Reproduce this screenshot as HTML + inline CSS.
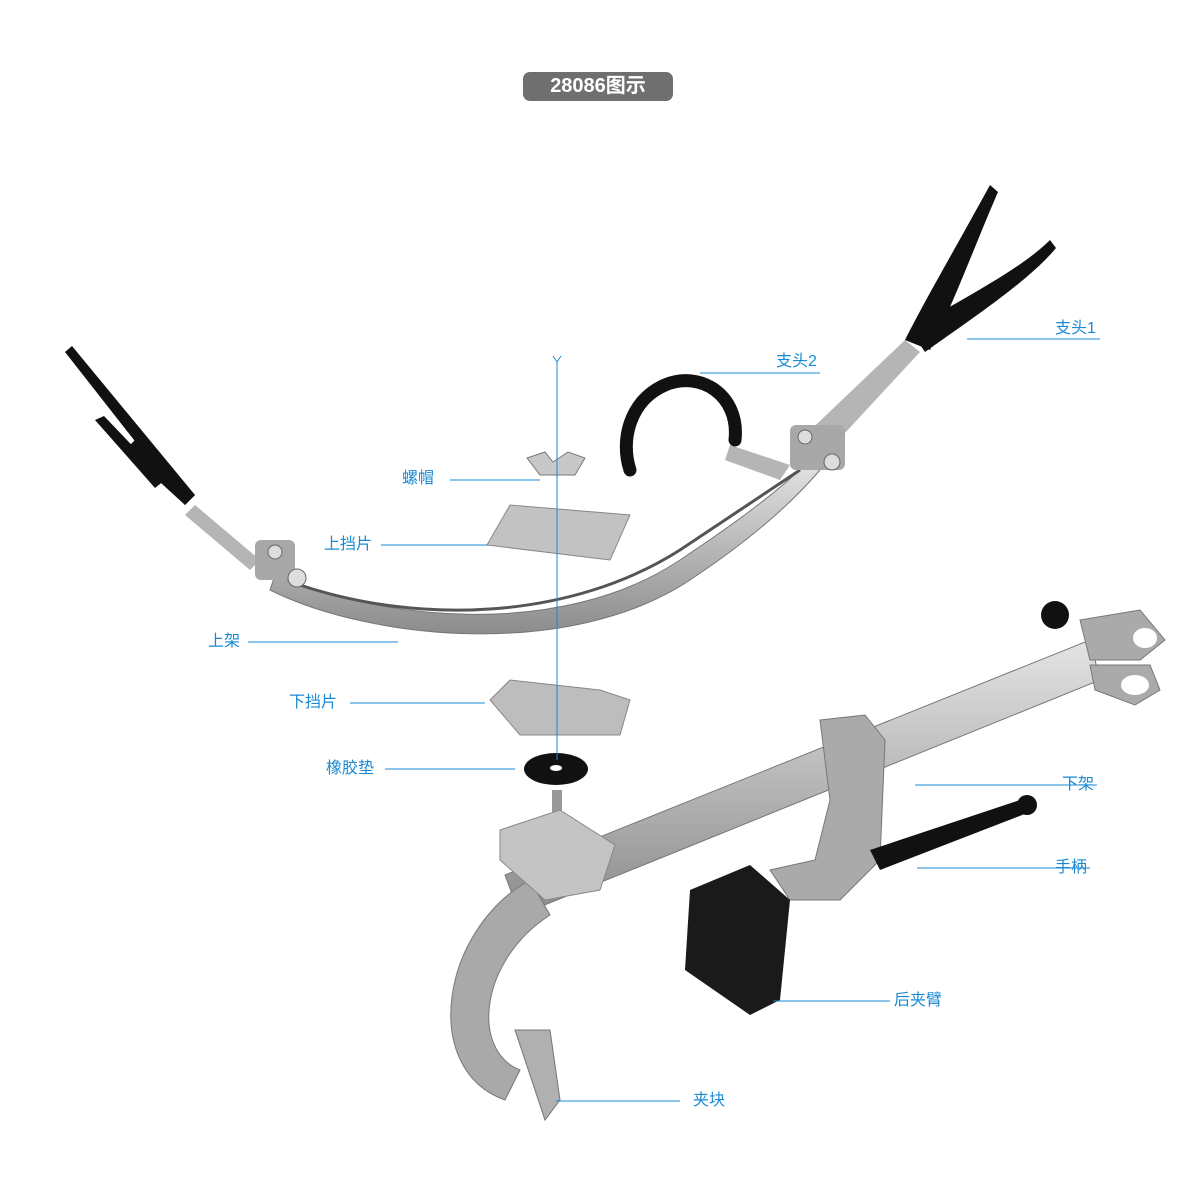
<!DOCTYPE html>
<html><head><meta charset="utf-8"><style>
html,body{margin:0;padding:0;background:#fff;}
#w{position:relative;width:1200px;height:1200px;overflow:hidden;font-family:"Liberation Sans","Noto Sans CJK SC",sans-serif;}
.t{position:absolute;left:523px;top:72px;width:150px;height:29px;background:#6f6f6f;border-radius:7px;color:#fff;font-weight:bold;font-size:20px;line-height:29px;text-align:center;}
.l{position:absolute;color:#1a8ad4;font-size:16px;line-height:18px;}
</style></head><body><div id="w">
<svg width="1200" height="1200" style="position:absolute;left:0;top:0">
<defs>
<linearGradient id="m" x1="0" y1="0" x2="0" y2="1"><stop offset="0" stop-color="#e4e4e4"/><stop offset=".5" stop-color="#b8b8b8"/><stop offset="1" stop-color="#8c8c8c"/></linearGradient>
</defs>
<!-- upper frame -->
<path d="M275,575 C380,620 560,640 680,560 C740,520 780,490 810,460 L820,470 C790,505 750,540 690,580 C570,660 370,640 270,590 Z" fill="url(#m)" stroke="#777" stroke-width="1"/>
<path d="M300,585 C420,625 570,620 680,550 L800,470" fill="none" stroke="#555" stroke-width="3"/>
<!-- left arms -->
<path d="M195,505 L260,560 L250,570 L185,515 Z" fill="#b5b5b5"/>
<path d="M65,352 L72,346 L195,495 L185,505 Z" fill="#111"/>
<path d="M95,420 L104,416 L165,480 L155,488 Z" fill="#111"/>
<path d="M135,440 L195,495 L185,505 L125,450 Z" fill="#111"/>
<rect x="255" y="540" width="40" height="40" rx="6" fill="#a8a8a8"/>
<circle cx="297" cy="578" r="9" fill="#ddd" stroke="#666"/>
<circle cx="275" cy="552" r="7" fill="#ddd" stroke="#666"/>
<!-- right arm -->
<path d="M800,440 L905,340 L920,352 L820,460 Z" fill="#b5b5b5"/>
<path d="M905,340 C925,300 960,240 990,185 L998,192 C975,245 955,300 930,350 Z" fill="#111"/>
<path d="M910,330 C960,300 1020,270 1050,240 L1056,248 C1030,280 970,320 925,352 Z" fill="#111"/>
<rect x="790" y="425" width="55" height="45" rx="6" fill="#a8a8a8"/>
<circle cx="832" cy="462" r="8" fill="#ddd" stroke="#666"/>
<circle cx="805" cy="437" r="7" fill="#ddd" stroke="#666"/>
<!-- hook support 2 -->
<path d="M730,445 L790,465 L780,480 L725,460 Z" fill="#b5b5b5"/>
<path d="M735,440 C740,395 700,370 665,385 C630,400 620,440 630,470" fill="none" stroke="#111" stroke-width="13" stroke-linecap="round"/>
<!-- wing nut, plates -->
<path d="M527,458 L545,452 L553,462 L568,452 L585,458 L575,475 L540,475 Z" fill="#c8c8c8" stroke="#777"/>
<path d="M487,545 L510,505 L630,515 L610,560 Z" fill="#c2c2c2" stroke="#888"/>
<path d="M490,700 L510,680 L600,690 L630,700 L620,735 L520,735 Z" fill="#bdbdbd" stroke="#888"/>
<ellipse cx="556" cy="769" rx="32" ry="16" fill="#111"/>
<ellipse cx="556" cy="768" rx="6" ry="3" fill="#fff"/>
<rect x="552" y="790" width="10" height="40" fill="#999"/>
<!-- lower frame bar -->
<path d="M505,875 L1090,640 L1100,680 L520,915 Z" fill="url(#m)" stroke="#777"/>
<!-- hook -->
<path d="M530,880 C440,930 420,1070 505,1100 L520,1070 C470,1050 480,960 550,915 Z" fill="#a9a9a9" stroke="#777"/>
<path d="M515,1030 L550,1030 L560,1100 L545,1120 Z" fill="#b0b0b0" stroke="#777"/>
<path d="M500,830 L560,810 L615,845 L600,890 L545,900 L500,860 Z" fill="#c4c4c4" stroke="#888"/>
<!-- right end brackets -->
<path d="M1080,620 L1140,610 L1165,640 L1140,660 L1090,660 Z" fill="#aaa" stroke="#777"/>
<ellipse cx="1145" cy="638" rx="12" ry="10" fill="#fff"/>
<path d="M1090,665 L1150,665 L1160,690 L1135,705 L1095,690 Z" fill="#aaa" stroke="#777"/>
<ellipse cx="1135" cy="685" rx="14" ry="10" fill="#fff"/>
<circle cx="1055" cy="615" r="14" fill="#111"/>
<!-- handle plate -->
<path d="M820,720 L865,715 L885,740 L880,860 L840,900 L790,900 L770,870 L815,860 L830,800 Z" fill="#aaa" stroke="#777"/>
<path d="M870,850 L1020,800 L1030,812 L880,870 Z" fill="#111"/>
<circle cx="1027" cy="805" r="10" fill="#111"/>
<!-- black pad -->
<path d="M690,890 L750,865 L790,900 L780,1000 L750,1015 L685,970 Z" fill="#1a1a1a"/>
<!-- axis line -->
<line x1="557" y1="362" x2="557" y2="760" stroke="#1a8ad4" stroke-width="1"/>
<path d="M553,356 L557,362 L561,356" fill="none" stroke="#1a8ad4" stroke-width="1"/>
<!-- leader lines -->
<g stroke="#1a8ad4" stroke-width="1">
<line x1="967" y1="339" x2="1100" y2="339"/>
<line x1="700" y1="373" x2="820" y2="373"/>
<line x1="450" y1="480" x2="540" y2="480"/>
<line x1="381" y1="545" x2="488" y2="545"/>
<line x1="248" y1="642" x2="398" y2="642"/>
<line x1="350" y1="703" x2="485" y2="703"/>
<line x1="385" y1="769" x2="515" y2="769"/>
<line x1="915" y1="785" x2="1097" y2="785"/>
<line x1="917" y1="868" x2="1090" y2="868"/>
<line x1="773" y1="1001" x2="890" y2="1001"/>
<line x1="556" y1="1101" x2="680" y2="1101"/>
</g>
</svg>
<div class="t">28086图示</div>
<div class="l" style="left:1055px;top:320px">支头1</div>
<div class="l" style="left:776px;top:353px">支头2</div>
<div class="l" style="left:402px;top:470px">螺帽</div>
<div class="l" style="left:324px;top:536px">上挡片</div>
<div class="l" style="left:208px;top:633px">上架</div>
<div class="l" style="left:289px;top:694px">下挡片</div>
<div class="l" style="left:326px;top:760px">橡胶垫</div>
<div class="l" style="left:1062px;top:776px">下架</div>
<div class="l" style="left:1055px;top:859px">手柄</div>
<div class="l" style="left:894px;top:992px">后夹臂</div>
<div class="l" style="left:693px;top:1092px">夹块</div>
</div></body></html>
